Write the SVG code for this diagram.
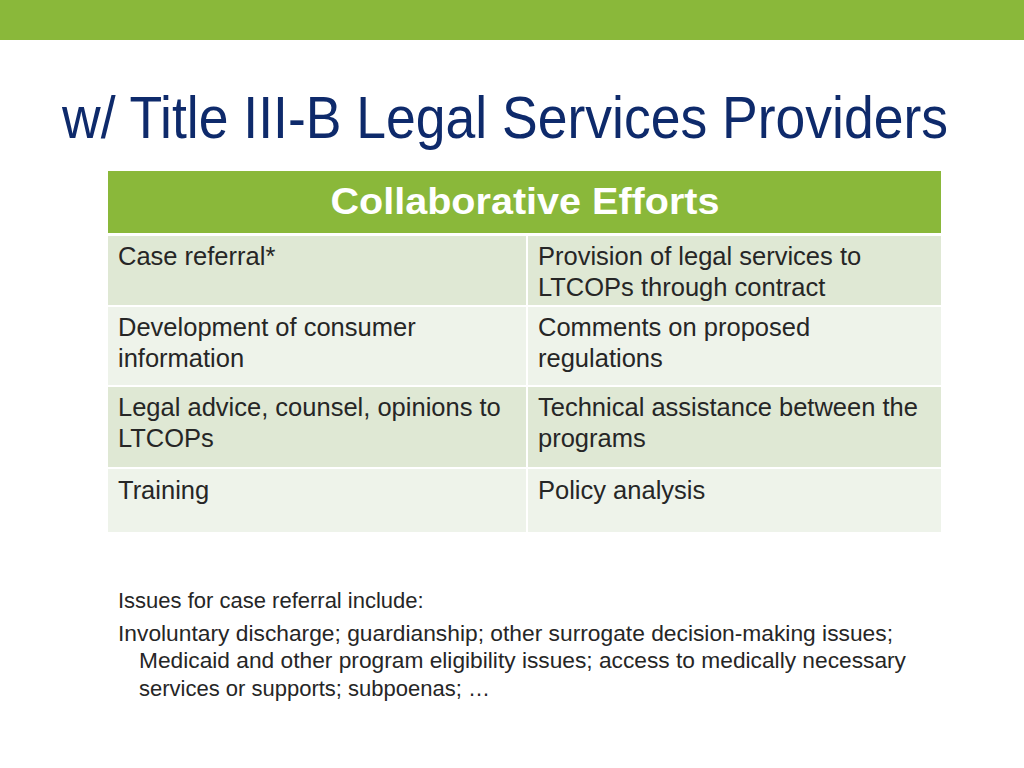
<svg xmlns="http://www.w3.org/2000/svg" width="1024" height="768" viewBox="0 0 1024 768">
<style>
.c{font-family:"Liberation Sans",Arial,sans-serif;font-size:25.5px;fill:#262626}
.n{font-family:"Liberation Sans",Arial,sans-serif;font-size:22px;fill:#262626}
.d{fill:#dfe8d4}.l{fill:#eef3ea}
</style>
<rect width="1024" height="768" fill="#fff"/>
<rect width="1024" height="40" fill="#8ab83a"/>
<text x="62" y="138" font-family="'Liberation Sans',Arial,sans-serif" font-size="60" fill="#0e2a6b" textLength="886" lengthAdjust="spacingAndGlyphs">w/ Title III-B Legal Services Providers</text>
<g id="table">
<rect x="108" y="171" width="833" height="62" fill="#8ab83a"/>
<text x="525" y="214" text-anchor="middle" font-family="'Liberation Sans',Arial,sans-serif" font-size="36" font-weight="bold" fill="#fff" textLength="389" lengthAdjust="spacingAndGlyphs">Collaborative Efforts</text>
<rect class="d" x="108" y="236" width="418" height="69"/><rect class="d" x="528" y="236" width="413" height="69"/>
<rect class="l" x="108" y="307" width="418" height="78"/><rect class="l" x="528" y="307" width="413" height="78"/>
<rect class="d" x="108" y="387" width="418" height="80"/><rect class="d" x="528" y="387" width="413" height="80"/>
<rect class="l" x="108" y="469" width="418" height="63"/><rect class="l" x="528" y="469" width="413" height="63"/>
<text class="c" x="118" y="265">Case referral*</text>
<text class="c" x="538" y="265">Provision of legal services to</text>
<text class="c" x="538" y="296">LTCOPs through contract</text>
<text class="c" x="118" y="336">Development of consumer</text>
<text class="c" x="118" y="367">information</text>
<text class="c" x="538" y="336">Comments on proposed</text>
<text class="c" x="538" y="367">regulations</text>
<text class="c" x="118" y="416">Legal advice, counsel, opinions to</text>
<text class="c" x="118" y="447">LTCOPs</text>
<text class="c" x="538" y="416">Technical assistance between the</text>
<text class="c" x="538" y="447">programs</text>
<text class="c" x="118" y="499">Training</text>
<text class="c" x="538" y="499">Policy analysis</text>
</g>
<g id="notes">
<text class="n" x="118" y="608">Issues for case referral include:</text>
<text class="n" x="118" y="641" textLength="775" lengthAdjust="spacingAndGlyphs">Involuntary discharge; guardianship; other surrogate decision-making issues;</text>
<text class="n" x="139" y="668" textLength="767" lengthAdjust="spacingAndGlyphs">Medicaid and other program eligibility issues; access to medically necessary</text>
<text class="n" x="139" y="696">services or supports; subpoenas; …</text>
</g>
</svg>
